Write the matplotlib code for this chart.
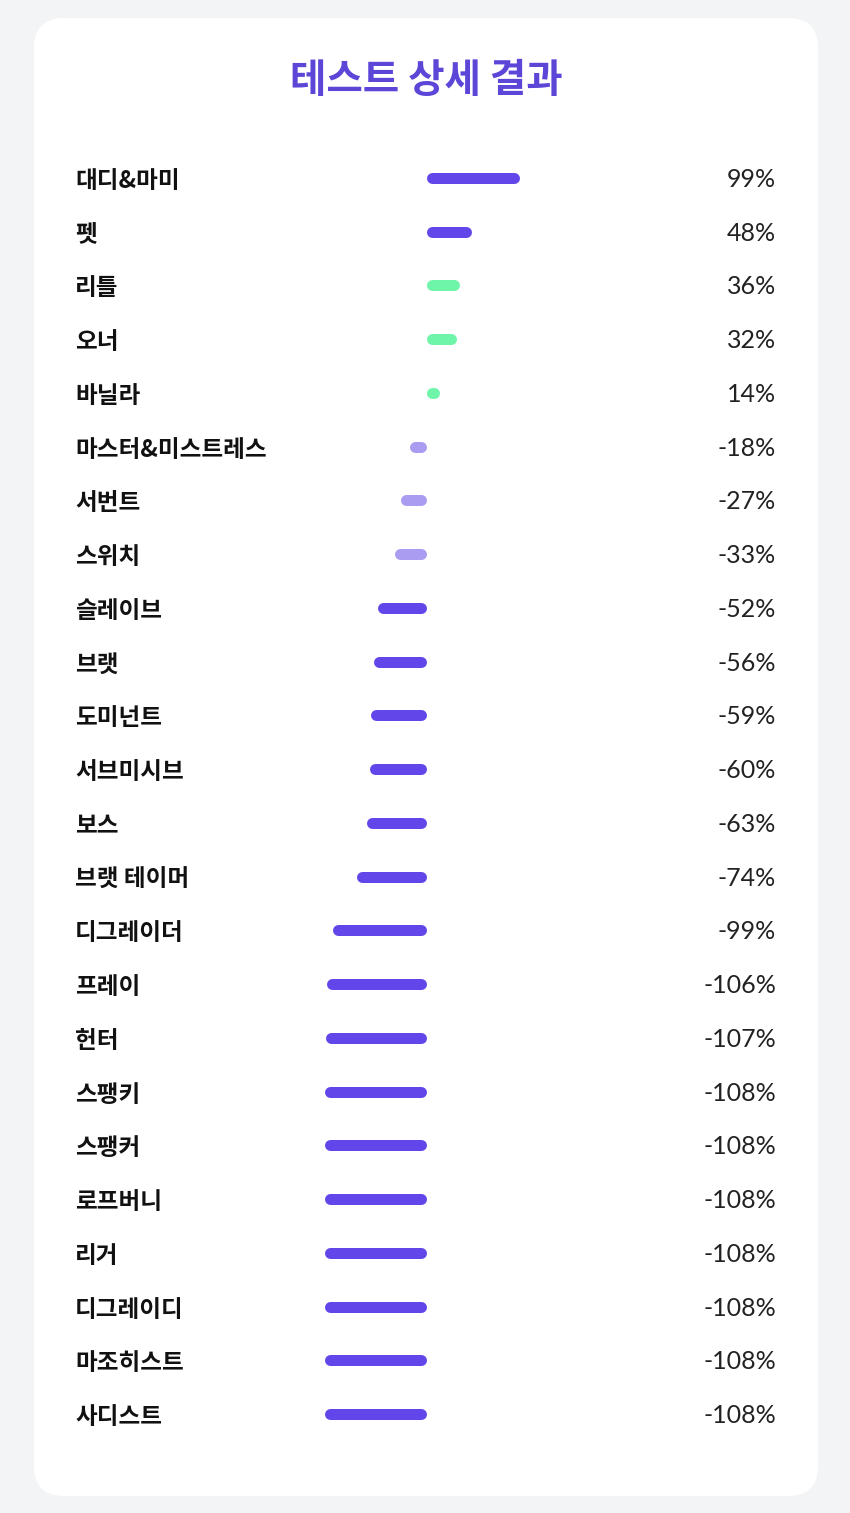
import matplotlib.pyplot as plt
import matplotlib.transforms as mtransforms
from matplotlib.patches import FancyBboxPatch

plt.rcParams['font.family'] = ['Noto Sans CJK KR', 'DejaVu Sans']

# data
labels = ['대디&마미', '펫', '리틀', '오너', '바닐라', '마스터&미스트레스', '서번트', '스위치',
          '슬레이브', '브랫', '도미넌트', '서브미시브', '보스', '브랫 테이머', '디그레이더',
          '프레이', '헌터', '스팽키', '스팽커', '로프버니', '리거', '디그레이디', '마조히스트', '사디스트']
values = [99, 48, 36, 32, 14, -18, -27, -33, -52, -56, -59, -60, -63, -74, -99,
          -106, -107, -108, -108, -108, -108, -108, -108, -108]
groups = ['main', 'main', 'green', 'green', 'green', 'light', 'light', 'light'] + ['main'] * 16
colors = {'main': '#6246ea', 'green': '#6ef5a9', 'light': '#a99cf1'}

W, H = 850, 1513
fig = plt.figure(figsize=(W / 100, H / 100), dpi=100)
fig.patch.set_facecolor('#f3f4f6')

# white card
card = FancyBboxPatch((0.34, 0.17), 7.84, 14.78,
                      boxstyle='round,pad=0,rounding_size=0.30',
                      transform=fig.dpi_scale_trans, facecolor='white',
                      edgecolor='none', zorder=-5)
fig.patches.append(card)

ax = fig.add_axes([0, 0, 1, 1])
ax.set_facecolor('none')
px = 0.94          # pixels per percent
x0 = 426           # zero line in pixels
row0, step = 178, 53.74
ax.set_xlim(-x0 / px, (W - x0) / px)
ax.set_ylim((H - row0) / step, -row0 / step)
ax.axis('off')

half = 5.5 / px
for i, (v, g) in enumerate(zip(values, groups)):
    a = min(0, v)
    b = max(0, v)
    if b - a > 2 * half:
        xs = [a + half, b - half]
    else:
        xs = [(a + b) / 2, (a + b) / 2]
    ax.plot(xs, [i, i], color=colors[g], lw=11 * 0.72,
            solid_capstyle='round', zorder=2)

trans = mtransforms.blended_transform_factory(ax.transAxes, ax.transData)
dy = 3 / step
for i, (lab, v) in enumerate(zip(labels, values)):
    ax.text(75 / W, i + dy, lab, transform=trans, ha='left', va='center',
            fontsize=17, fontweight='bold', color='#111111')
    ax.text(776 / W, i + dy * 0.5, f'{v}%', transform=trans, ha='right', va='center',
            fontsize=18, family=['Lato', 'DejaVu Sans'], color='#222222')

fig.text(426 / W, 1 - 81 / H, '테스트 상세 결과', ha='center', va='center',
         fontsize=28.5, fontweight='bold', color='#5c46d8')

fig.savefig('out.png', dpi=100, facecolor=fig.get_facecolor())
